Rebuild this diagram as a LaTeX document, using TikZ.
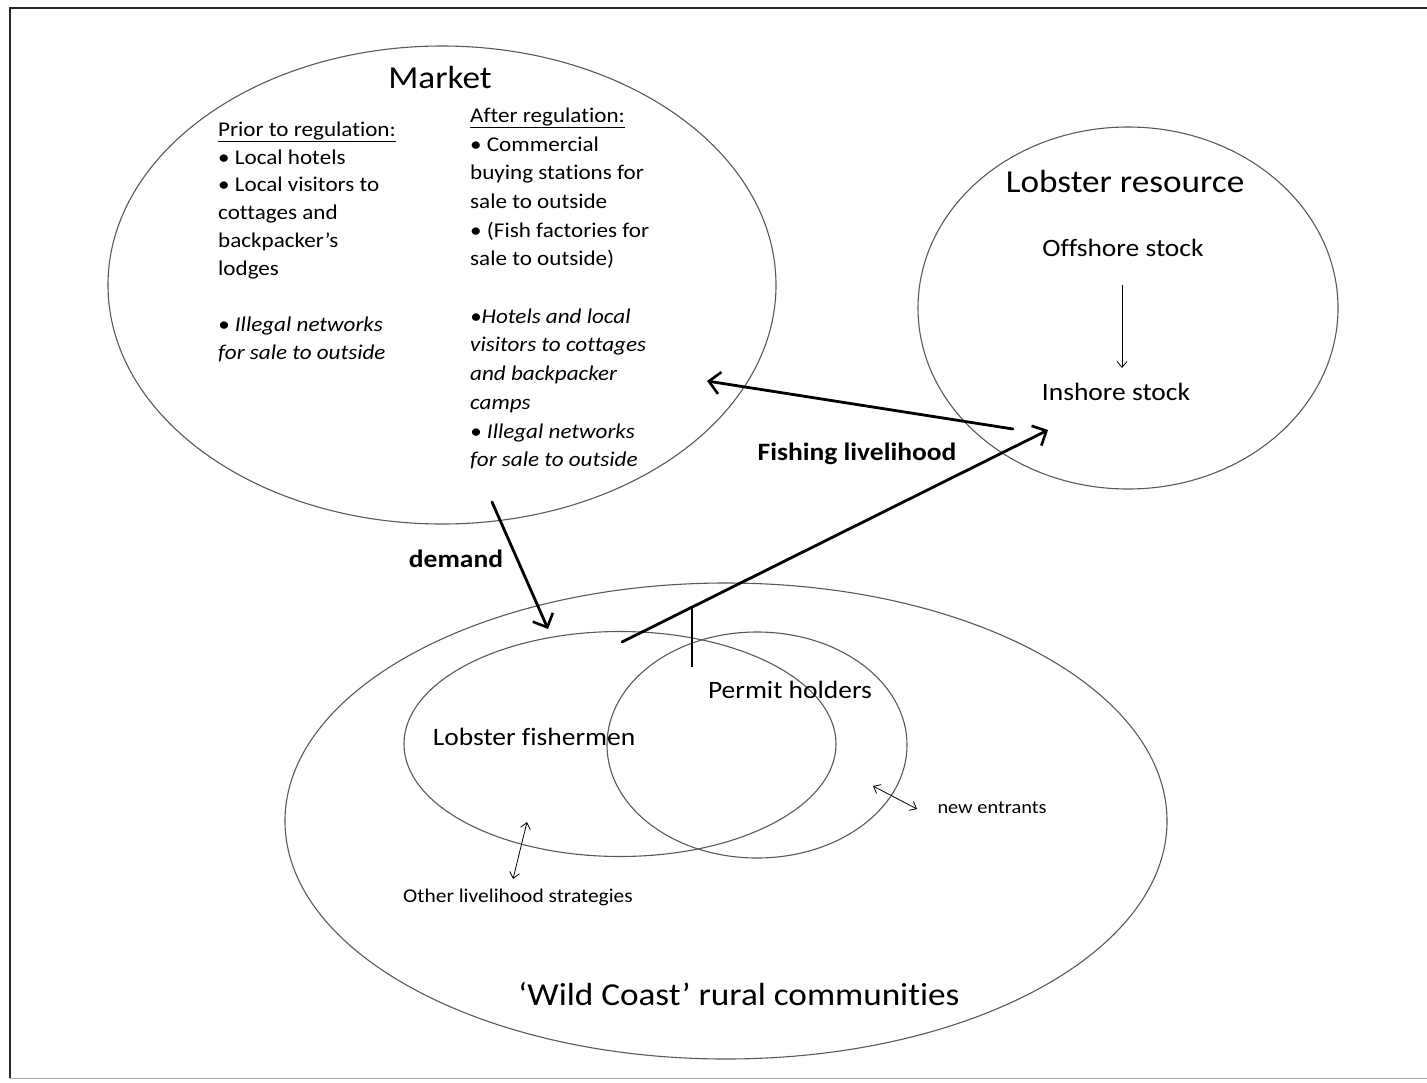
\documentclass[tikz,border=0pt]{standalone}
\usepackage{fontspec}
\setmainfont{Carlito}[FakeStretch=1.1, Ligatures={NoCommon}]
\usetikzlibrary{shapes.geometric,arrows.meta}
\begin{document}
\begin{tikzpicture}[x=1pt,y=-1pt,
  region/.style={ellipse, draw=black!65, line width=1.1pt, inner sep=0pt},
  bigtitle/.style={inner sep=0pt, anchor=base, font=\fontsize{32}{36}\selectfont},
  midlabel/.style={inner sep=0pt, anchor=base, font=\fontsize{25}{30}\selectfont},
  boldlabel/.style={inner sep=0pt, anchor=base, font=\fontsize{25}{30}\selectfont\bfseries},
  smalllabel/.style={inner sep=0pt, anchor=base, font=\fontsize{19.5}{23}\selectfont},
  colline/.style={inner sep=0pt, anchor=base west, font=\fontsize{21}{25}\selectfont},
  bigarrow/.style={line width=2.8pt, line cap=round, -{Straight Barb[length=11pt,width=22pt,line width=2.6pt]}},
  thinarrow/.style={line width=0.8pt, -{Straight Barb[length=6pt,width=10pt,line width=0.8pt]}},
  twoway/.style={line width=0.8pt, {Straight Barb[length=6pt,width=10pt,line width=0.8pt]}-{Straight Barb[length=6pt,width=10pt,line width=0.8pt]}},
  stem/.style={line width=2.6pt}]
\useasboundingbox (0,0) rectangle (1427,1082);
\fill[white] (0,0) rectangle (1427,1082);
\draw[line width=1.5pt, black!85] (10,1078) -- (10,8) -- (1440,8);
\draw[line width=1pt, black!35] (10,1078) -- (1440,1078);

% regions
\node[region, minimum width=668pt, minimum height=478pt] (market) at (442,285) {};
\node[region, minimum width=420pt, minimum height=362pt] (resource) at (1128,308) {};
\node[region, minimum width=882pt, minimum height=476pt] (coast) at (726,821) {};
\node[region, minimum width=432pt, minimum height=225pt] (fishers) at (620,744) {};
\node[region, minimum width=300pt, minimum height=226pt] (permits) at (757,745) {};

% titles
\node[bigtitle] (tmarket) at (440,88) {Market};
\node[bigtitle] (tresource) at (1125,192) {Lobster resource};
\node[bigtitle] (tcoast) at (739,1005) {‘Wild Coast’ rural communities};
\node[midlabel] (offshore) at (1123,256) {Offshore stock};
\node[midlabel] (inshore) at (1116,400) {Inshore stock};
\node[midlabel] (tpermit) at (790,698) {Permit holders};
\node[midlabel] (tfishers) at (534,745) {Lobster fishermen};
\node[boldlabel] (tlivelihood) at (857,460) {Fishing livelihood};
\node[boldlabel] (tdemand) at (456,567) {demand};
\node[smalllabel, font=\fontsize{18.5}{22}\selectfont] (tnew) at (992,813) {new entrants};
\node[smalllabel] (tother) at (518,902) {Other livelihood strategies};

% market: prior column
\node[colline] (p1) at (218,136) {\underline{Prior to regulation:}};
\node[colline] (p2) at (218,164) {• Local hotels};
\node[colline] (p3) at (218,191) {• Local visitors to};
\node[colline] (p4) at (218,219) {cottages and};
\node[colline] (p5) at (218,247) {backpacker’s};
\node[colline] (p6) at (218,275) {lodges};
\node[colline] (p7) at (218,331) {\itshape • Illegal networks};
\node[colline] (p8) at (218,359) {\itshape for sale to outside};

% market: after column
\node[colline] (a1) at (470,122) {\underline{After regulation:}};
\node[colline] (a2) at (470,151) {• Commercial};
\node[colline] (a3) at (470,179) {buying stations for};
\node[colline] (a4) at (470,208) {sale to outside};
\node[colline] (a5) at (470,237) {• (Fish factories for};
\node[colline] (a6) at (470,265) {sale to outside)};
\node[colline] (a7) at (470,323) {\itshape •Hotels and local};
\node[colline] (a8) at (470,351) {\itshape visitors to cottages};
\node[colline] (a9) at (470,380) {\itshape and backpacker};
\node[colline] (a10) at (470,409) {\itshape camps};
\node[colline] (a11) at (470,438) {\itshape • Illegal networks};
\node[colline] (a12) at (470,466) {\itshape for sale to outside};

% connector ends
\coordinate (resOut) at (1013,429);
\coordinate (mkIn) at (707,381);
\coordinate (fishStart) at (622,642);
\coordinate (resIn) at (1048,430);
\coordinate (stemTop) at (692,608);
\coordinate (stemBot) at (692,667);
\coordinate (mkOut) at (492,502);
\coordinate (fishIn) at (548,629);
\coordinate (offOut) at (1122,285);
\coordinate (inIn) at (1122,368);
\coordinate (newA) at (873,786);
\coordinate (newB) at (917,809);
\coordinate (othA) at (527,822);
\coordinate (othB) at (513,879);

% connectors
\draw[bigarrow] (resOut) -- (mkIn);
\draw[bigarrow] (fishStart) -- (resIn);
\draw[stem] (stemTop) -- (stemBot);
\draw[bigarrow] (mkOut) -- (fishIn);
\draw[thinarrow] (offOut) -- (inIn);
\draw[twoway] (newA) -- (newB);
\draw[twoway] (othA) -- (othB);
\end{tikzpicture}
\end{document}
